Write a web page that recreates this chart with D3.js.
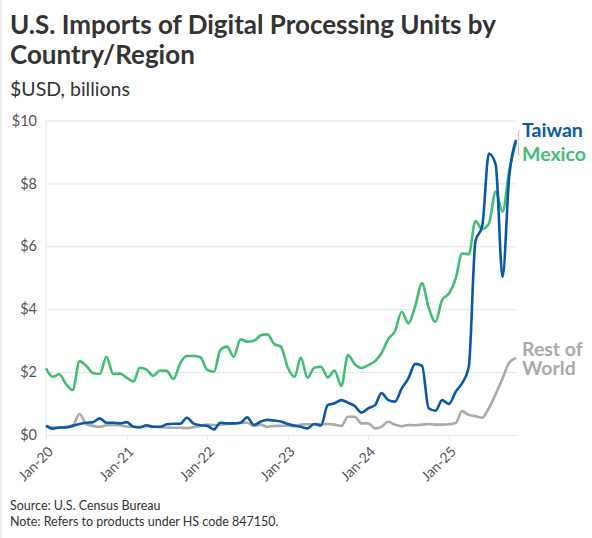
<!DOCTYPE html>
<html lang="en">
    <head>
        <meta charset="utf-8">
        <title>U.S. Imports of Digital Processing Units</title>
        <script src="https://d3js.org/d3.v7.min.js"></script>
        <style type="text/css">
            body {
              margin: 0;
              background: #fff;
            }
            svg text {
              font-family: "Source Sans Pro", "Lato", "Noto Sans", sans-serif;
            }
            .axis text {
              fill: #555;
            }
            .grid line {
              stroke: #e6e6e6;
            }
        </style>
    </head>
    <body>
        <div id="chart"></div>
        <script type="text/javascript">

        //DATA - monthly, Jan-20 to Nov-25 ($ billions)
            const startMonth = new Date(2020, 0, 1);
            const endMonth = new Date(2025, 10, 1);

            const taiwan = [
                0.30, 0.20, 0.24, 0.24, 0.29, 0.35, 0.39, 0.41, 0.53, 0.39, 0.39, 0.37,
                0.41, 0.26, 0.24, 0.31, 0.26, 0.26, 0.34, 0.36, 0.36, 0.55, 0.36, 0.31,
                0.29, 0.18, 0.39, 0.37, 0.37, 0.39, 0.56, 0.32, 0.43, 0.48, 0.46, 0.43,
                0.35, 0.30, 0.26, 0.21, 0.35, 0.30, 0.95, 1.01, 1.11, 1.03, 0.92, 0.71,
                0.85, 0.95, 1.33, 1.11, 1.06, 1.48, 1.80, 2.26, 2.20, 0.85, 0.77, 1.11,
                0.99, 1.38, 1.64, 2.17, 6.15, 6.65, 8.95, 8.60, 5.03, 8.20, 9.38
            ];
            const mexico = [
                2.12, 1.85, 1.93, 1.62, 1.43, 2.35, 2.20, 1.97, 1.94, 2.49, 1.94, 1.95,
                1.82, 1.70, 2.14, 2.08, 1.88, 2.05, 2.04, 1.78, 2.29, 2.51, 2.51, 2.47,
                2.07, 2.01, 2.70, 2.81, 2.49, 3.04, 2.97, 3.00, 3.17, 3.20, 2.89, 2.81,
                2.15, 1.85, 2.46, 1.82, 2.14, 2.17, 1.83, 2.05, 1.56, 2.54, 2.25, 2.13,
                2.22, 2.35, 2.60, 3.05, 3.30, 3.92, 3.55, 4.10, 4.82, 4.05, 3.60, 4.30,
                4.50, 4.98, 5.77, 5.75, 6.80, 6.55, 6.72, 7.74, 7.10, 8.40, 9.30
            ];
            const restOfWorld = [
                0.29, 0.24, 0.24, 0.26, 0.30, 0.67, 0.35, 0.29, 0.26, 0.31, 0.32, 0.31,
                0.27, 0.26, 0.26, 0.28, 0.26, 0.25, 0.24, 0.23, 0.23, 0.22, 0.25, 0.29,
                0.33, 0.32, 0.33, 0.35, 0.37, 0.38, 0.39, 0.29, 0.33, 0.26, 0.29, 0.29,
                0.30, 0.28, 0.33, 0.34, 0.34, 0.35, 0.35, 0.33, 0.29, 0.58, 0.58, 0.37,
                0.37, 0.21, 0.26, 0.42, 0.33, 0.28, 0.32, 0.31, 0.33, 0.35, 0.33, 0.33,
                0.34, 0.38, 0.76, 0.64, 0.60, 0.55, 0.85, 1.30, 1.80, 2.30, 2.45
            ];

            const seriesNames = ["Rest of World", "Mexico", "Taiwan"];
            const yTicks = [0, 2, 4, 6, 8, 10];
            const xTickLabels = ["Jan-20", "Jan-21", "Jan-22", "Jan-23", "Jan-24", "Jan-25"];

        //CONSTANTS
            const w = 592;
            const h = 538;
            const colors = {"Taiwan": "#0a59a9", "Mexico": "#42bd74", "Rest of World": "#aaaaaa"};

            const months = d3.timeMonth.range(startMonth, d3.timeMonth.offset(endMonth, 1));
            const values = {"Taiwan": taiwan, "Mexico": mexico, "Rest of World": restOfWorld};

        //SCALES
            const xScale = d3.scaleTime()
                            .domain([startMonth, endMonth])
                            .range([46, 516]);

            const yScale = d3.scaleLinear()
                            .domain([0, 10])
                            .range([435, 120.5]);

            const svg = d3.select("#chart")
                    .append("svg")
                    .attr("width", w)
                    .attr("height", h);

            //thin left border
            svg.append("rect")
                .attr("x", 0).attr("y", 0)
                .attr("width", 2).attr("height", h)
                .attr("fill", "#ececec");

        //TITLES
            svg.append("text")
                .attr("x", 10).attr("y", 34)
                .attr("font-size", 26).attr("font-weight", 700)
                .attr("fill", "#333")
                .text("U.S. Imports of Digital Processing Units by");
            svg.append("text")
                .attr("x", 10).attr("y", 64)
                .attr("font-size", 26).attr("font-weight", 700)
                .attr("fill", "#333")
                .text("Country/Region");
            svg.append("text")
                .attr("x", 10).attr("y", 96)
                .attr("font-size", 19.5)
                .attr("fill", "#333")
                .text("$USD, billions");

        //GRID + Y AXIS
            const leftAxis = d3.axisLeft(yScale)
                            .tickValues(yTicks)
                            .tickSize(-(516 - 46))
                            .tickPadding(9)
                            .tickFormat(d => "$" + d);

            svg.append("g")
                .attr("class", "axis grid")
                .attr("transform", "translate(46,0)")
                .call(leftAxis)
                .call(g => g.select(".domain").remove())
                .call(g => g.selectAll("text").attr("font-size", 14.5));

            svg.append("line")
                .attr("x1", 46).attr("x2", 46)
                .attr("y1", yScale(10)).attr("y2", yScale(0) + 5)
                .attr("stroke", "#e6e6e6");

        //X AXIS
            const xTickDates = xTickLabels.map(d => d3.timeParse("%b-%y")(d));
            const bottomAxis = d3.axisBottom(xScale)
                            .tickValues(xTickDates)
                            .tickSize(5)
                            .tickFormat(d3.timeFormat("%b-%y"));

            svg.append("g")
                .attr("class", "axis")
                .attr("transform", "translate(0,435)")
                .call(bottomAxis)
                .call(g => g.select(".domain").remove())
                .call(g => g.selectAll("line").attr("stroke", "#e6e6e6"))
                .call(g => g.selectAll("text")
                    .attr("font-size", 14)
                    .attr("text-anchor", "end")
                    .attr("dy", "0.35em")
                    .attr("transform", "translate(4,14) rotate(-45)")
                    .attr("x", 0).attr("y", 0));

        //LINES
            const line = d3.line()
                        .x((d, i) => xScale(months[i]))
                        .y(d => yScale(d))
                        .curve(d3.curveMonotoneX);

            svg.selectAll(".series")
                .data(seriesNames)
                .enter()
                .append("path")
                .attr("class", "series")
                .attr("d", d => line(values[d]))
                .attr("fill", "none")
                .attr("stroke", d => colors[d])
                .attr("stroke-width", 2.6)
                .attr("stroke-linejoin", "round");

        //END LABELS
            const lastX = xScale(endMonth);
            const labels = [
                {"name": "Taiwan", "lines": ["Taiwan"], "y": 137},
                {"name": "Mexico", "lines": ["Mexico"], "y": 161},
                {"name": "Rest of World", "lines": ["Rest of", "World"], "y": 356}
            ];

            //small leader lines for the crowded top labels
            labels.slice(0, 2).forEach(l => {
                const endY = yScale(values[l.name][values[l.name].length - 1]);
                svg.append("path")
                    .attr("d", "M" + (lastX + 1) + "," + endY + "H" + (lastX + 2.5) + "V" + (l.y - 6) + "H" + (lastX + 4))
                    .attr("fill", "none")
                    .attr("stroke", "#c8c8c8")
                    .attr("stroke-width", 1);
            });

            labels.forEach(l => {
                l.lines.forEach((s, i) => {
                    svg.append("text")
                        .attr("x", lastX + 6)
                        .attr("y", l.y + i * 18.5)
                        .attr("font-size", 19.5)
                        .attr("font-weight", 700)
                        .attr("fill", colors[l.name])
                        .text(s);
                });
            });

        //FOOTER
            svg.append("text")
                .attr("x", 10).attr("y", 510)
                .attr("font-size", 12.5)
                .attr("fill", "#333")
                .text("Source: U.S. Census Bureau");
            svg.append("text")
                .attr("x", 10).attr("y", 526)
                .attr("font-size", 12.5)
                .attr("fill", "#333")
                .text("Note: Refers to products under HS code 847150.");
        </script>
    </body>
</html>
